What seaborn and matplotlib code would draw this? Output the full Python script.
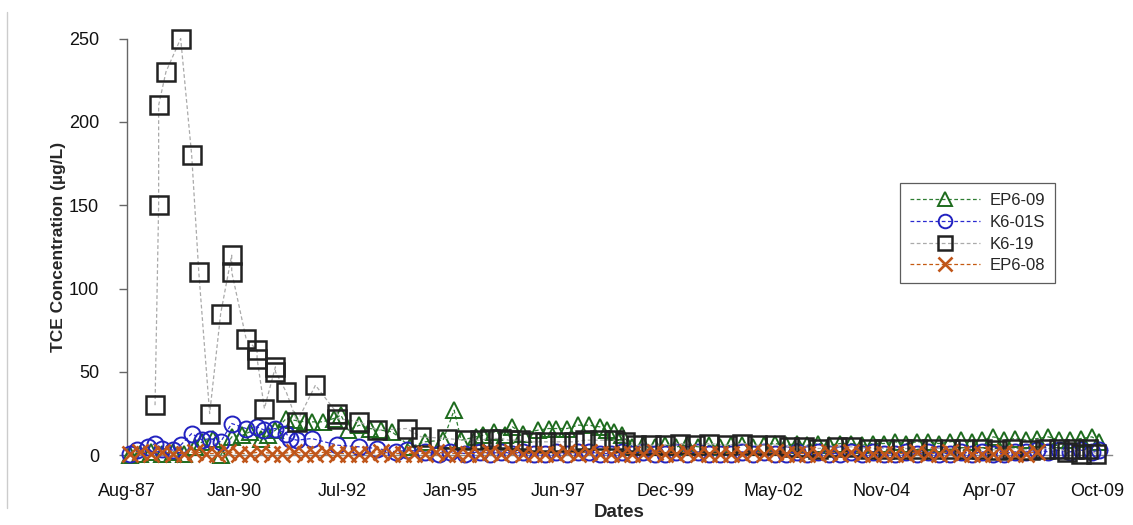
import pandas as pd
import seaborn as sns
import matplotlib.pyplot as plt
import matplotlib.dates as mdates
from matplotlib.lines import Line2D

# ---- data (TCE, ug/L) ----
ep609_dates = [
    "1987-09", "1987-12", "1988-03", "1988-06", "1988-09", "1988-12",
    "1989-03", "1989-05", "1989-08", "1989-10",
    "1990-01", "1990-04", "1990-06", "1990-09", "1990-11",
    "1991-01", "1991-04", "1991-06", "1991-09", "1991-11",
    "1992-02", "1992-05", "1992-07", "1992-09", "1992-12",
    "1993-03", "1993-06", "1993-09",
    "1994-02", "1994-06", "1994-11",
    "1995-02", "1995-04", "1995-08", "1995-10",
    "1996-01", "1996-04", "1996-06", "1996-09",
    "1997-01", "1997-04", "1997-06", "1997-09", "1997-12",
    "1998-03", "1998-06", "1998-08", "1998-10", "1998-12",
    "1999-03", "1999-06", "1999-09", "1999-12",
    "2000-03", "2000-06", "2000-09", "2000-12",
    "2001-03", "2001-06", "2001-09", "2001-12",
    "2002-03", "2002-06", "2002-09", "2002-12",
    "2003-03", "2003-06", "2003-09", "2003-12",
    "2004-03", "2004-06", "2004-09", "2004-12",
    "2005-03", "2005-06", "2005-09", "2005-12",
    "2006-03", "2006-06", "2006-09", "2006-12",
    "2007-03", "2007-06", "2007-09", "2007-12",
    "2008-03", "2008-06", "2008-09", "2008-12",
    "2009-03", "2009-06", "2009-09", "2009-11",
]
ep609_vals = [
    0, 1, 2, 1, 2, 1,
    5, 8, 10, 0,
    11, 12, 14, 10, 12,
    15, 22, 21, 20, 20,
    20, 22, 24, 15, 18,
    16, 15, 14,
    5, 8, 9,
    27, 9, 11, 12,
    14, 12, 17, 13,
    15, 16, 16, 16, 18,
    18, 17, 15, 14, 12,
    5, 6, 5, 6,
    5, 6, 5, 6,
    5, 6, 6, 5,
    6, 7, 6, 7,
    6, 7, 6, 7,
    7, 6, 7, 7,
    8, 7, 8, 8,
    7, 8, 9, 8,
    9, 11, 9, 10,
    9, 10, 11, 9,
    9, 10, 11, 8,
]

k601s_dates = [
    "1987-09", "1987-11", "1988-02", "1988-04", "1988-06", "1988-09", "1988-11",
    "1989-02", "1989-05", "1989-07", "1989-10",
    "1990-01", "1990-05", "1990-08", "1990-10",
    "1991-01", "1991-04", "1991-05", "1991-07", "1991-11",
    "1992-06", "1992-12", "1993-05", "1993-10",
    "1994-01", "1994-06", "1994-10",
    "1995-01", "1995-05", "1995-09", "1995-12",
    "1996-03", "1996-06", "1996-09", "1996-12",
    "1997-03", "1997-06", "1997-09", "1997-12",
    "1998-03", "1998-06", "1998-09", "1998-12",
    "1999-03", "1999-06", "1999-09", "1999-12",
    "2000-03", "2000-06", "2000-09", "2000-12",
    "2001-03", "2001-06", "2001-09", "2001-12",
    "2002-03", "2002-06", "2002-09", "2002-12",
    "2003-03", "2003-06", "2003-09", "2003-12",
    "2004-03", "2004-06", "2004-09", "2004-12",
    "2005-03", "2005-06", "2005-09", "2005-12",
    "2006-03", "2006-06", "2006-09", "2006-12",
    "2007-03", "2007-06", "2007-09", "2007-12",
    "2008-03", "2008-06", "2008-09", "2008-12",
    "2009-03", "2009-06", "2009-09", "2009-11",
]
k601s_vals = [
    1, 3, 5, 7, 4, 3, 6,
    13, 9, 10, 8,
    19, 16, 17, 15,
    16, 13, 10, 9, 10,
    6, 5, 4, 2,
    3, 2, 1,
    2, 1, 2, 1,
    2, 1, 2, 1,
    1, 2, 1, 2,
    2, 1, 1, 2,
    1, 2, 1, 1,
    2, 1, 2, 1,
    1, 1, 2, 1,
    2, 1, 1, 2,
    1, 2, 1, 1,
    2, 1, 2, 1,
    1, 2, 1, 2,
    1, 1, 2, 1,
    2, 1, 1, 2,
    2, 3, 2, 3,
    2, 3, 2, 3,
]

k619_dates = [
    "1988-04", "1988-05", "1988-05", "1988-07", "1988-11",
    "1989-02", "1989-04", "1989-07", "1989-10",
    "1990-01", "1990-01", "1990-05", "1990-08", "1990-08", "1990-10",
    "1991-01", "1991-01", "1991-04", "1991-07", "1991-12",
    "1992-06", "1992-06", "1992-12", "1993-05",
    "1994-01", "1994-05", "1994-12",
    "1995-05", "1995-09", "1995-12",
    "1996-03", "1996-05", "1996-08", "1996-11",
    "1997-03", "1997-07", "1997-11",
    "1998-02", "1998-06", "1998-10",
    "1999-01", "1999-04", "1999-08", "1999-12",
    "2000-04", "2000-08", "2000-12",
    "2001-05", "2001-09",
    "2002-01", "2002-06", "2002-10",
    "2003-02", "2003-06", "2003-11",
    "2004-03", "2004-08", "2004-12",
    "2005-05", "2005-09",
    "2006-01", "2006-06", "2006-10",
    "2007-03", "2007-07", "2007-11",
    "2008-04", "2008-08", "2008-12",
    "2009-02", "2009-04", "2009-06", "2009-08", "2009-10",
]
k619_vals = [
    30, 150, 210, 230, 250,
    180, 110, 25, 85,
    120, 110, 70, 63, 58, 28,
    53, 50, 38, 20, 42,
    25, 22, 20, 15,
    16, 11, 10,
    9, 9, 10,
    10, 9, 9, 8,
    8, 8, 8,
    9, 9, 9,
    8, 6, 6, 6,
    7, 6, 7,
    6, 7,
    6, 6, 5,
    5, 4, 5,
    5, 4, 4,
    4, 4,
    4, 4, 4,
    4, 3, 4,
    3, 4, 4,
    2, 4, 1, 4, 1,
]

ep608_dates = [
    "1987-09", "1987-12",
    "1988-03", "1988-06", "1988-09", "1988-12",
    "1989-03", "1989-06", "1989-09", "1989-12",
    "1990-03", "1990-06", "1990-09", "1990-12",
    "1991-03", "1991-06", "1991-09", "1991-12",
    "1992-03", "1992-06", "1992-09", "1992-12",
    "1993-03", "1993-06", "1993-09", "1993-12",
    "1994-03", "1994-06", "1994-09", "1994-12",
    "1995-03", "1995-06", "1995-09", "1995-12",
    "1996-03", "1996-06", "1996-09", "1996-12",
    "1997-03", "1997-06", "1997-09", "1997-12",
    "1998-03", "1998-06", "1998-09", "1998-12",
    "1999-03", "1999-06", "1999-09", "1999-12",
    "2000-03", "2000-06", "2000-09", "2000-12",
    "2001-03", "2001-06", "2001-09", "2001-12",
    "2002-03", "2002-06", "2002-09", "2002-12",
    "2003-03", "2003-06", "2003-09", "2003-12",
    "2004-03", "2004-06", "2004-09", "2004-12",
    "2005-03", "2005-06", "2005-09", "2005-12",
    "2006-03", "2006-06", "2006-09", "2006-12",
    "2007-03", "2007-06", "2007-09", "2007-12",
    "2008-03", "2008-06",
]
ep608_vals = [
    1, 2,
    1, 2, 1, 1,
    2, 1, 1, 2,
    1, 1, 2, 1,
    1, 2, 1, 1,
    2, 1, 1, 1,
    1, 2, 1, 1,
    1, 1, 2, 1,
    1, 1, 1, 2,
    1, 2, 1, 1,
    1, 1, 2, 1,
    2, 1, 1, 1,
    1, 1, 2, 1,
    1, 2, 1, 1,
    1, 1, 1, 2,
    1, 2, 1, 1,
    1, 1, 2, 1,
    2, 1, 1, 1,
    1, 1, 2, 1,
    1, 2, 1, 1,
    1, 1, 2, 1,
    1, 2,
]

x_tick_dates = ["1987-08-10", "1990-01-26", "1992-07-14", "1995-01-01", "1997-06-20",
                "1999-12-06", "2002-05-25", "2004-11-10", "2007-04-29", "2009-10-15"]
y_ticks = [0, 50, 100, 150, 200, 250]

sns.set_style("white")
plt.rcParams['font.family'] = ['Liberation Sans', 'DejaVu Sans']

fig = plt.figure(figsize=(11.33, 5.25), dpi=100)
ax = fig.add_axes([0.112, 0.133, 0.8695, 0.7935])

dash = (0, (3, 2))
series = [
    ("EP6-09", ep609_dates, ep609_vals,
     dict(color="#2e7d32", marker="^", markersize=11.5, markerfacecolor="none",
          markeredgecolor="#1d6b1d", markeredgewidth=1.4)),
    ("K6-01S", k601s_dates, k601s_vals,
     dict(color="#2a2ad0", marker="o", markersize=11.5, markerfacecolor="none",
          markeredgecolor="#2222c0", markeredgewidth=1.4)),
    ("K6-19", k619_dates, k619_vals,
     dict(color="#aaaaaa", marker="s", markersize=12.5, markerfacecolor="none",
          markeredgecolor="#222222", markeredgewidth=1.8)),
    ("EP6-08", ep608_dates, ep608_vals,
     dict(color="#c55a11", marker="x", markersize=11.5, markerfacecolor="none",
          markeredgecolor="#c0561a", markeredgewidth=1.9)),
]

for i, (name, dates, vals, style) in enumerate(series):
    df = pd.DataFrame({"date": pd.to_datetime(dates), "value": vals})
    sns.lineplot(data=df, x="date", y="value", ax=ax, label=name, estimator=None,
                 sort=False, linestyle=dash, linewidth=0.9, clip_on=False,
                 zorder=3 + i, **style)

start = pd.Timestamp(x_tick_dates[0])
ax.set_xlim(start, start + pd.Timedelta(days=8225))
ax.set_ylim(0, 250)
ax.set_yticks(y_ticks)
ax.set_xticks(pd.to_datetime(x_tick_dates))
ax.xaxis.set_major_formatter(mdates.DateFormatter("%b-%y"))

for s in ["top", "right"]:
    ax.spines[s].set_visible(False)
ax.spines["left"].set_color("#666666")
ax.spines["bottom"].set_color("#888888")
ax.spines["left"].set_linewidth(1)
ax.spines["bottom"].set_linewidth(1)

ax.tick_params(axis="y", direction="out", length=6, width=1, color="#666666",
               pad=14, labelsize=13, labelcolor="#111111", left=True)
ax.tick_params(axis="x", length=0, pad=20, labelsize=13, labelcolor="#111111")

ax.set_xlabel("Dates", fontsize=13.5, fontweight="bold", labelpad=3)
ax.set_ylabel("TCE Concentration (µg/L)", fontsize=12.5, fontweight="bold", labelpad=2)

leg = ax.legend(loc="upper left", bbox_to_anchor=(0.794, 0.651),
                bbox_transform=fig.transFigure, fontsize=12, frameon=True,
                fancybox=False, edgecolor="#333333", handlelength=4.2,
                handletextpad=0.6, labelspacing=0.4, borderpad=0.6,
                borderaxespad=0, markerscale=0.85)
leg.get_frame().set_linewidth(0.9)

fig.add_artist(Line2D([7 / 1133, 7 / 1133], [0.032, 0.977], color="#cccccc", lw=1))

fig.savefig("out.png", dpi=100)
